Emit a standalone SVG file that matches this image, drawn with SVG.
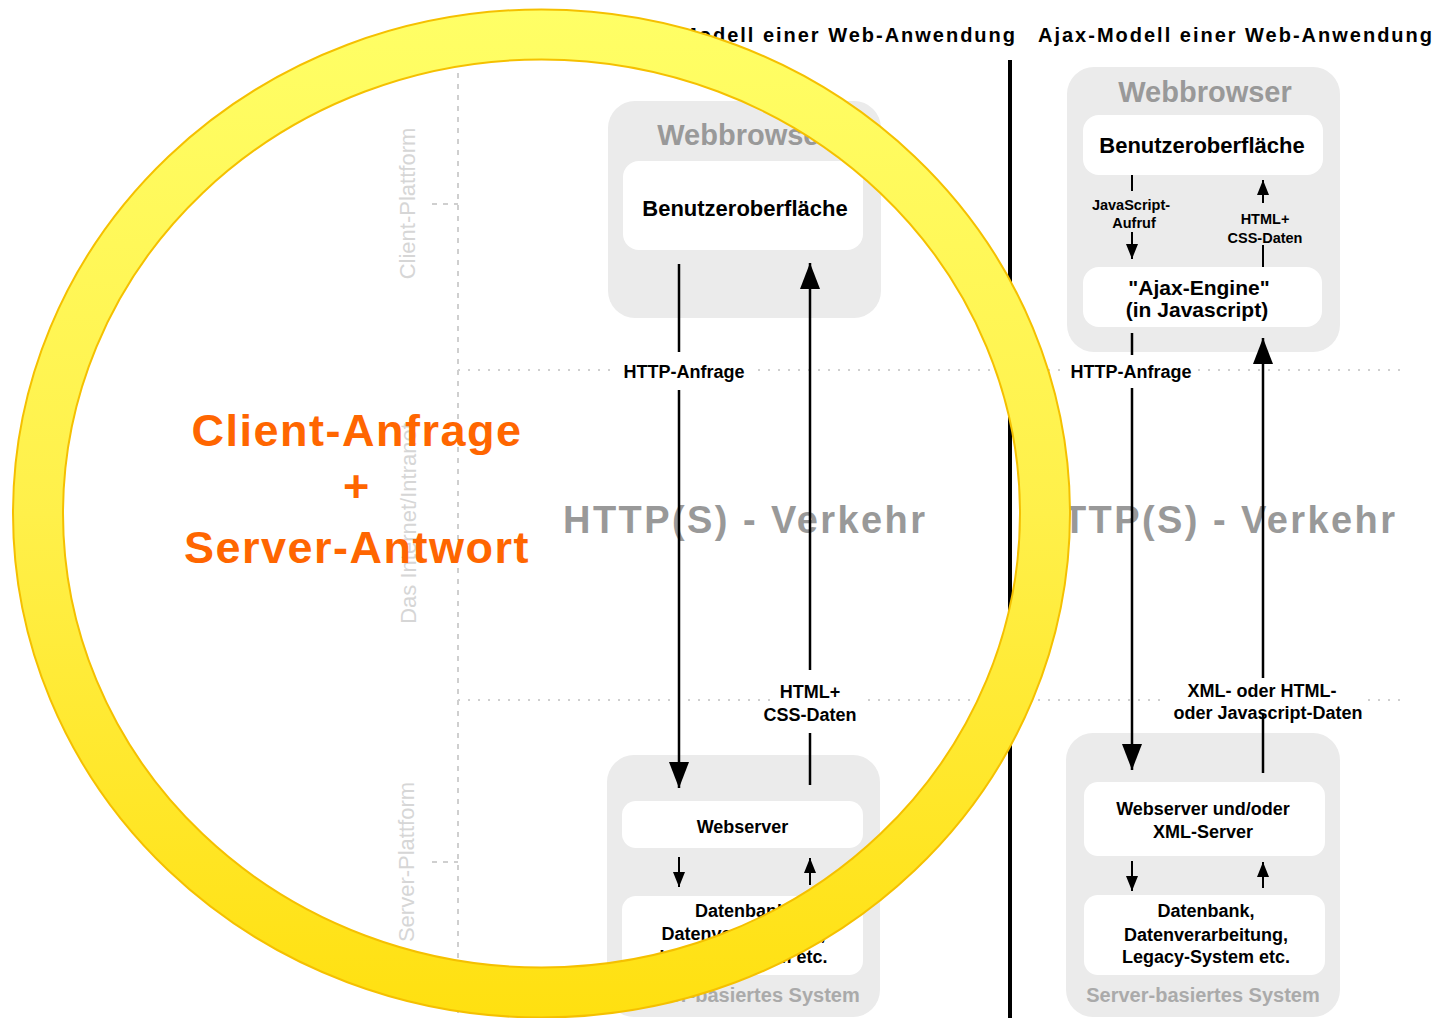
<svg xmlns="http://www.w3.org/2000/svg" width="1436" height="1018" viewBox="0 0 1436 1018">
<defs>
<style>
.t{font-family:"Liberation Sans",Arial,sans-serif;font-weight:bold;fill:#000;text-anchor:middle}
.grp{fill:#ebebeb}
.box{fill:#fff}
.side{font-family:"Liberation Sans",Arial,sans-serif;fill:#d6d6d6;font-size:22px;text-anchor:middle}
.dot{stroke:#cfcfcf;stroke-width:2;fill:none;stroke-dasharray:2 8}
.dash{stroke:#cfcfcf;stroke-width:2;fill:none;stroke-dasharray:5 6}
.ln{stroke:#000;stroke-width:2.5;fill:none}
.sl{stroke:#000;stroke-width:2;fill:none}
.big{marker-end:url(#ab)}
.sm{marker-end:url(#as)}
.lbg{fill:#fff}
.or{font-family:"Liberation Sans",Arial,sans-serif;font-weight:bold;fill:#ff6600;font-size:45px;letter-spacing:1.5px;text-anchor:middle}
</style>
<marker id="ab" viewBox="0 0 26 20" refX="26" refY="10" markerWidth="26" markerHeight="20" markerUnits="userSpaceOnUse" orient="auto"><path d="M0,0 L26,10 L0,20 Z" fill="#000"/></marker>
<marker id="as" viewBox="0 0 15 12" refX="15" refY="6" markerWidth="15" markerHeight="12" markerUnits="userSpaceOnUse" orient="auto"><path d="M0,0 L15,6 L0,12 Z" fill="#000"/></marker>
<linearGradient id="ringGrad" gradientUnits="userSpaceOnUse" x1="0" y1="10" x2="0" y2="1018">
<stop offset="0" stop-color="#ffff66"/>
<stop offset="0.5" stop-color="#fff04a"/>
<stop offset="1" stop-color="#ffe010"/>
</linearGradient>
</defs>
<rect width="1436" height="1018" fill="#fff"/>

<g id="titles">
<text class="t" x="535" y="42" font-size="20" style="text-anchor:start" textLength="480" lengthAdjust="spacing">Klassisches Modell einer Web-Anwendung</text>
<text class="t" x="1038" y="42" font-size="20" style="text-anchor:start" textLength="394" lengthAdjust="spacing">Ajax-Modell einer Web-Anwendung</text>
</g>

<g id="guides">
<line class="dash" x1="458" y1="40" x2="458" y2="1018"/>
<line class="dash" x1="432" y1="204" x2="458" y2="204"/>
<line class="dash" x1="432" y1="862" x2="458" y2="862"/>
<line class="dot" x1="458" y1="370" x2="1400" y2="370"/>
<line class="dot" x1="458" y1="700" x2="1400" y2="700"/>
<line x1="1010" y1="60" x2="1010" y2="1018" stroke="#000" stroke-width="4"/>
<text class="side" transform="translate(415,203.5) rotate(-90)">Client-Plattform</text>
<text class="side" transform="translate(416,523.5) rotate(-90)">Das Internet/Intranet</text>
<text class="side" transform="translate(414,862) rotate(-90)">Server-Plattform</text>
</g>

<g id="traffic">
<text class="t" x="744" y="533" font-size="38" style="fill:#999" textLength="362" lengthAdjust="spacing">HTTP(S) - Verkehr</text>
<text class="t" x="1214" y="533" font-size="38" style="fill:#999" textLength="362" lengthAdjust="spacing">HTTP(S) - Verkehr</text>
</g>

<g id="left-browser">
<rect class="grp" x="608" y="101" width="273" height="217" rx="27"/>
<text class="t" x="744" y="145" font-size="29" style="fill:#999">Webbrowser</text>
<rect class="box" x="623" y="161" width="240" height="89" rx="16"/>
<text class="t" x="745" y="216" font-size="22">Benutzeroberfläche</text>
</g>

<g id="left-server">
<rect class="grp" x="607" y="755" width="273" height="262" rx="27"/>
<rect class="box" x="622" y="801" width="241" height="47" rx="14"/>
<text class="t" x="742.5" y="833" font-size="18">Webserver</text>
<rect class="box" x="622" y="896" width="241" height="79" rx="14"/>
<text class="t" x="743.5" y="917" font-size="18">Datenbank,</text>
<text class="t" x="743.5" y="940" font-size="18">Datenverarbeitung,</text>
<text class="t" x="743.5" y="963" font-size="18">Legacy-System etc.</text>
<text class="t" x="743" y="1002" font-size="20" style="fill:#aaa">Server-basiertes System</text>
</g>

<g id="right-browser">
<rect class="grp" x="1067" y="67" width="273" height="285" rx="27"/>
<text class="t" x="1205" y="102" font-size="29" style="fill:#999">Webbrowser</text>
<rect class="box" x="1083" y="115" width="240" height="60" rx="16"/>
<text class="t" x="1202" y="153" font-size="22">Benutzeroberfläche</text>
<rect class="box" x="1083" y="267" width="239" height="60" rx="16"/>
<text class="t" x="1199" y="295" font-size="21">"Ajax-Engine"</text>
<text class="t" x="1197" y="317" font-size="21">(in Javascript)</text>
</g>

<g id="right-server">
<rect class="grp" x="1066" y="733" width="274" height="284" rx="27"/>
<rect class="box" x="1084" y="782" width="241" height="74" rx="14"/>
<text class="t" x="1203" y="815" font-size="18">Webserver und/oder</text>
<text class="t" x="1203" y="838" font-size="18">XML-Server</text>
<rect class="box" x="1084" y="895" width="241" height="80" rx="14"/>
<text class="t" x="1206" y="917" font-size="18">Datenbank,</text>
<text class="t" x="1206" y="941" font-size="18">Datenverarbeitung,</text>
<text class="t" x="1206" y="963" font-size="18">Legacy-System etc.</text>
<text class="t" x="1203" y="1002" font-size="20" style="fill:#aaa">Server-basiertes System</text>
</g>

<g id="connectors">
<rect class="lbg" x="618" y="360" width="132" height="22"/>
<rect class="lbg" x="772" y="682" width="90" height="44"/>
<rect class="lbg" x="1066" y="360" width="132" height="22"/>
<rect class="lbg" x="1168" y="681" width="200" height="44"/>
<line class="ln" x1="679" y1="264" x2="679" y2="352"/>
<line class="ln big" x1="679" y1="390" x2="679" y2="788"/>
<line class="ln" x1="810" y1="785" x2="810" y2="733"/>
<line class="ln big" x1="810" y1="670" x2="810" y2="263"/>
<line class="sl sm" x1="679" y1="857" x2="679" y2="887"/>
<line class="sl sm" x1="810" y1="885" x2="810" y2="858"/>
<line class="sl" x1="1132" y1="175" x2="1132" y2="191"/>
<line class="sl sm" x1="1132" y1="232" x2="1132" y2="259"/>
<line class="sl" x1="1263" y1="267" x2="1263" y2="245"/>
<line class="sl sm" x1="1263" y1="203" x2="1263" y2="180"/>
<line class="ln" x1="1132" y1="333" x2="1132" y2="355"/>
<line class="ln big" x1="1132" y1="388" x2="1132" y2="770"/>
<line class="ln" x1="1263" y1="773" x2="1263" y2="714"/>
<line class="ln big" x1="1263" y1="678" x2="1263" y2="338"/>
<line class="sl sm" x1="1132" y1="861" x2="1132" y2="891"/>
<line class="sl sm" x1="1263" y1="888" x2="1263" y2="862"/>
<text class="t" x="684" y="378" font-size="18">HTTP-Anfrage</text>
<text class="t" x="810" y="698" font-size="18">HTML+</text>
<text class="t" x="810" y="721" font-size="18">CSS-Daten</text>
<text class="t" x="1131" y="378" font-size="18">HTTP-Anfrage</text>
<text class="t" x="1262" y="697" font-size="18">XML- oder HTML-</text>
<text class="t" x="1268" y="719" font-size="18">oder Javascript-Daten</text>
<text class="t" x="1131" y="210" font-size="14.5">JavaScript-</text>
<text class="t" x="1134" y="228" font-size="14.5">Aufruf</text>
<text class="t" x="1265" y="224" font-size="14.5">HTML+</text>
<text class="t" x="1265" y="243" font-size="14.5">CSS-Daten</text>
</g>

<g id="highlight">
<text class="or" x="357" y="446">Client-Anfrage</text>
<text class="or" x="357" y="502">+</text>
<text class="or" x="357" y="563">Server-Antwort</text>
<ellipse cx="541.5" cy="513.5" rx="503.5" ry="479" fill="none" stroke="#f5c000" stroke-width="52"/>
<ellipse cx="541.5" cy="513.5" rx="503.5" ry="479" fill="none" stroke="url(#ringGrad)" stroke-width="48"/>
</g>
</svg>
